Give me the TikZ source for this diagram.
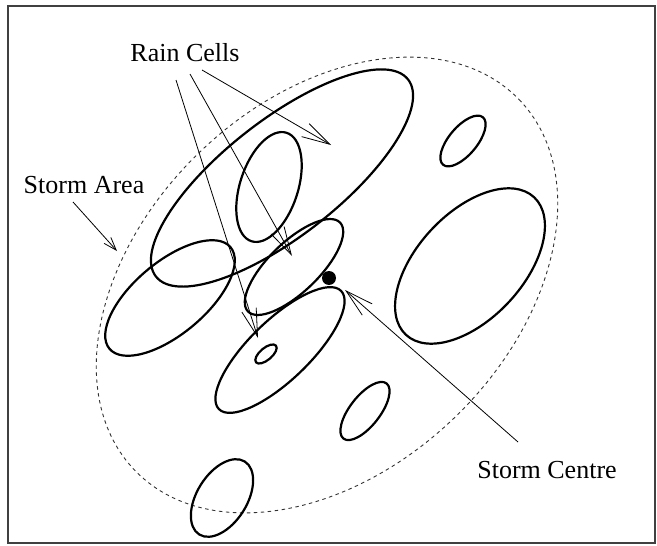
\documentclass[tikz,border=0pt]{standalone}
\usepackage{fontspec}
\setmainfont{Liberation Serif}
\usetikzlibrary{arrows.meta}
\newcommand{\raincell}[5]{\draw[cellline, rotate around={#3:(#1,#2)}] (#1,#2) ellipse (#4 and #5);}

\begin{document}
\begin{tikzpicture}[x=1pt, y=-1pt,
  cellline/.style={line width=2.2pt},
  pointer/.style={line width=0.8pt, -{Straight Barb[length=28pt,width=15pt]}},
  lbl/.style={font=\fontsize{26}{30}\selectfont, inner sep=0pt, anchor=base}]
\useasboundingbox (0,0) rectangle (657,546);
\draw[line width=1.2pt, black!75] (8,6) rectangle (655,543);
\draw[line width=0.9pt, black!80, dash pattern=on 3.5pt off 3.5pt, rotate around={44:(327,285)}] (327,285) ellipse (267 and 184);
\raincell{282}{178}{38}{160}{58}
\raincell{269}{187}{72}{57}{29}
\raincell{170}{298}{40}{79}{36}
\raincell{294}{267}{44}{64}{25}
\raincell{280}{350}{44}{85}{30}
\raincell{266}{354}{40}{13}{6}
\raincell{470}{266}{47}{94}{53}
\raincell{463}{141}{50}{31}{14}
\raincell{365}{411}{52}{35}{15}
\raincell{222}{498}{58}{43}{25}
\fill (329,278) circle (7);
\node[lbl] (rain) at (185,61) {Rain Cells};
\node[lbl] (area) at (84,193) {Storm Area};
\node[lbl] (centre) at (547,478) {Storm Centre};
\coordinate (cellA) at (258,338);
\coordinate (cellB) at (292,256);
\coordinate (cellC) at (331,145);
\coordinate (edge) at (117,251);
\coordinate (mid) at (345,290);
\draw[pointer] ([shift={(-9,19)}]rain.base) -- (cellA);
\draw[pointer] ([shift={(5,13)}]rain.base) -- (cellB);
\draw[pointer] ([shift={(17,9)}]rain.base) -- (cellC);
\draw[pointer, -{Straight Barb[length=13pt,width=9pt]}] ([shift={(-11,9)}]area.base) -- (edge);
\draw[pointer] ([shift={(-29,-36)}]centre.base) -- (mid);
\end{tikzpicture}
\end{document}
